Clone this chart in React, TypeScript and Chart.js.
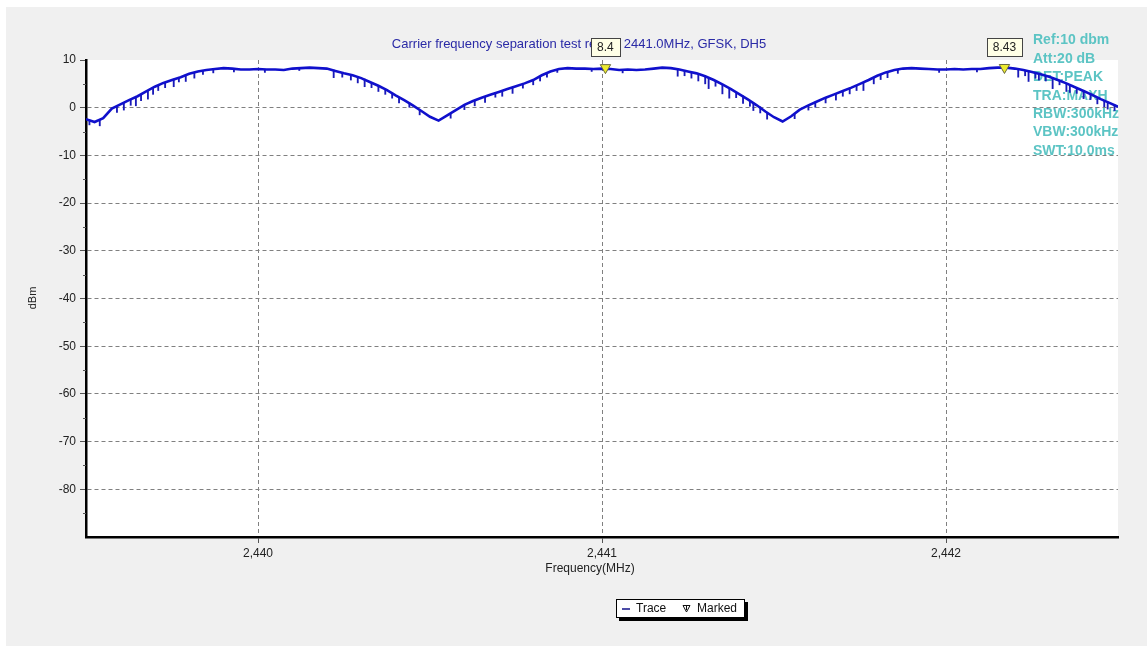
import React, { useEffect, useRef } from "react";
import { Chart, registerables } from "chart.js";

Chart.register(...registerables);

const TITLE = "Carrier frequency separation test result, 2441.0MHz, GFSK, DH5";
const X_TITLE = "Frequency(MHz)";
const Y_TITLE = "dBm";
const INFO_LINES = ["Ref:10 dbm", "Att:20 dB", "DET:PEAK", "TRA:MAXH", "RBW:300kHz", "VBW:300kHz", "SWT:10.0ms"];
const LEGEND_TRACE = "Trace";
const LEGEND_MARKED = "Marked";

const X_MIN = 2439.5;
const X_MAX = 2442.5;
const X_TICKS = [2440, 2441, 2442];
const Y_MIN = -90;
const Y_MAX = 10;
const Y_TICKS = [10, 0, -10, -20, -30, -40, -50, -60, -70, -80];

const TRACE_FREQ = [
  2439.5, 2439.525, 2439.55, 2439.575, 2439.6, 2439.625, 2439.65, 2439.675, 2439.7, 2439.725,
  2439.75, 2439.775, 2439.8, 2439.825, 2439.85, 2439.875, 2439.9, 2439.925, 2439.95, 2439.975,
  2440.0, 2440.025, 2440.05, 2440.075, 2440.1, 2440.125, 2440.15, 2440.175, 2440.2, 2440.225,
  2440.25, 2440.275, 2440.3, 2440.325, 2440.35, 2440.375, 2440.4, 2440.425, 2440.45, 2440.475,
  2440.5, 2440.525, 2440.55, 2440.575, 2440.6, 2440.625, 2440.65, 2440.675, 2440.7, 2440.725,
  2440.75, 2440.775, 2440.8, 2440.825, 2440.85, 2440.875, 2440.9, 2440.925, 2440.95, 2440.975,
  2441.0, 2441.025, 2441.05, 2441.075, 2441.1, 2441.125, 2441.15, 2441.175, 2441.2, 2441.225,
  2441.25, 2441.275, 2441.3, 2441.325, 2441.35, 2441.375, 2441.4, 2441.425, 2441.45, 2441.475,
  2441.5, 2441.525, 2441.55, 2441.575, 2441.6, 2441.625, 2441.65, 2441.675, 2441.7, 2441.725,
  2441.75, 2441.775, 2441.8, 2441.825, 2441.85, 2441.875, 2441.9, 2441.925, 2441.95, 2441.975,
  2442.0, 2442.025, 2442.05, 2442.075, 2442.1, 2442.125, 2442.15, 2442.175, 2442.2, 2442.225,
  2442.25, 2442.275, 2442.3, 2442.325, 2442.35, 2442.375, 2442.4, 2442.425, 2442.45, 2442.475,
  2442.5,
];

const TRACE_DBM = [
  -2.4, -3.0, -2.2, -0.2, 0.7, 1.6, 2.4, 3.4, 4.4, 5.2,
  5.8, 6.4, 7.1, 7.6, 7.9, 8.1, 8.3, 8.2, 8.0, 8.0,
  8.1, 8.0, 8.0, 7.9, 8.2, 8.3, 8.4, 8.3, 8.2, 7.7,
  7.2, 6.8, 6.2, 5.4, 4.6, 3.7, 2.6, 1.6, 0.5, -0.7,
  -1.9, -2.7, -1.6, -0.5, 0.6, 1.4, 2.1, 2.7, 3.3, 3.9,
  4.5, 5.1, 5.8, 6.8, 7.6, 8.1, 8.3, 8.2, 8.2, 8.1,
  8.2, 8.1, 7.9, 8.0, 7.9, 8.0, 8.2, 8.4, 8.3, 8.0,
  7.6, 7.2, 6.6, 5.8, 4.9, 3.9, 2.8, 1.7, 0.5, -0.8,
  -2.0, -2.9, -1.8, -0.4, 0.5, 1.3, 2.1, 2.8, 3.5, 4.2,
  5.0, 5.8, 6.7, 7.4, 7.9, 8.2, 8.3, 8.2, 8.1, 8.0,
  8.0, 8.1, 8.0, 8.1, 8.1, 8.3, 8.4, 8.4, 8.2, 7.9,
  7.5, 7.0, 6.5, 5.8, 5.1, 4.3, 3.5, 2.7, 1.8, 1.0,
  0.2,
];

// downward noise spikes: frequency, top, bottom (dBm)
const SPIKE_FREQ = [
  2439.51, 2439.54, 2439.59, 2439.61, 2439.63, 2439.645, 2439.66, 2439.68, 2439.695, 2439.71,
  2439.73, 2439.755, 2439.77, 2439.79, 2439.815, 2439.84, 2439.87, 2439.93, 2440.02, 2440.12,
  2440.22, 2440.245, 2440.27, 2440.29, 2440.31, 2440.33, 2440.35, 2440.37, 2440.39, 2440.41,
  2440.44, 2440.47, 2440.56, 2440.6, 2440.63, 2440.66, 2440.69, 2440.71, 2440.74, 2440.77,
  2440.8, 2440.82, 2440.84, 2440.87, 2440.97, 2441.06, 2441.22, 2441.24, 2441.26, 2441.28,
  2441.3, 2441.31, 2441.33, 2441.35, 2441.37, 2441.39, 2441.41, 2441.43, 2441.44, 2441.46,
  2441.48, 2441.56, 2441.6, 2441.62, 2441.65, 2441.68, 2441.7, 2441.72, 2441.74, 2441.76,
  2441.79, 2441.81, 2441.83, 2441.86, 2441.98, 2442.09, 2442.21, 2442.23, 2442.24, 2442.26,
  2442.27, 2442.29, 2442.31, 2442.33, 2442.35, 2442.36, 2442.38, 2442.4, 2442.42, 2442.44,
  2442.46, 2442.47, 2442.49,
];
const SPIKE_HIGH = [
  -2.6, -2.7, 0.3, 1.0, 1.7, 2.2, 2.7, 3.5, 4.2, 4.7,
  5.3, 6.0, 6.3, 6.9, 7.4, 7.8, 8.1, 8.2, 8.0, 8.3,
  7.9, 7.3, 6.9, 6.5, 6.0, 5.3, 4.6, 3.9, 3.1, 2.2,
  1.0, -0.5, -1.2, 0.6, 1.5, 2.3, 3.1, 3.5, 4.3, 5.0,
  5.8, 6.6, 7.3, 8.0, 8.1, 7.9, 8.1, 7.7, 7.4, 7.0,
  6.6, 6.3, 5.6, 4.9, 4.1, 3.2, 2.5, 1.5, 1.0, 0.2,
  -1.0, -1.3, 0.5, 1.2, 2.1, 3.0, 3.5, 4.1, 4.7, 5.3,
  6.3, 6.9, 7.5, 8.0, 8.0, 8.1, 8.0, 7.8, 7.7, 7.3,
  7.1, 6.7, 6.3, 5.8, 5.1, 4.8, 4.1, 3.5, 2.8, 2.0,
  1.4, 1.2, 0.6,
];
const SPIKE_LOW = [
  -3.6, -3.8, -1.0, -0.5, 0.5, 0.4, 1.5, 1.8, 2.8, 3.6,
  4.2, 4.4, 5.4, 5.5, 6.2, 7.0, 7.3, 7.5, 7.4, 7.8,
  6.3, 6.4, 5.8, 5.2, 4.4, 4.2, 3.4, 2.8, 2.0, 1.0,
  0.0, -1.5, -2.2, -0.4, 0.4, 1.1, 2.2, 2.4, 3.0, 4.1,
  4.8, 5.6, 6.4, 7.4, 7.6, 7.3, 6.6, 6.7, 6.2, 5.6,
  5.0, 4.0, 4.5, 2.9, 2.0, 2.1, 0.9, 0.3, -0.6, -1.1,
  -2.4, -2.3, -0.5, 0.0, 1.0, 1.6, 2.4, 2.9, 3.6, 3.6,
  5.0, 5.9, 6.3, 7.2, 7.4, 7.5, 6.4, 6.7, 5.5, 6.2,
  5.8, 5.6, 4.0, 4.8, 3.4, 3.2, 3.0, 1.9, 1.7, 0.8,
  0.2, -0.3, -0.6,
];

const MARKER_FREQ = [2441.01, 2442.17];
const MARKER_DBM = [8.4, 8.43];

const FONT = '"Liberation Sans", Arial, Helvetica, sans-serif';
const W = 1147;
const H = 646;

const decorPlugin = {
  id: "decor",
  beforeDraw(chart: any) {
    const ctx = chart.ctx;
    const a = chart.chartArea;
    ctx.save();
    ctx.fillStyle = "#ffffff";
    ctx.fillRect(0, 0, W, H);
    ctx.fillStyle = "#f0f0f0";
    ctx.fillRect(6, 7, W - 6, H - 7);
    ctx.fillStyle = "#ffffff";
    ctx.fillRect(a.left, a.top, a.right - a.left, a.bottom - a.top);

    // title
    ctx.fillStyle = "#2a2aa6";
    ctx.font = `13px ${FONT}`;
    ctx.textAlign = "center";
    ctx.textBaseline = "middle";
    ctx.fillText(TITLE, 579, 44);

    // info text
    ctx.fillStyle = "#5cc4c4";
    ctx.font = `bold 14px ${FONT}`;
    ctx.textAlign = "left";
    INFO_LINES.forEach((t, i) => ctx.fillText(t, 1033, 40.5 + i * 18.4));

    // axis titles
    ctx.fillStyle = "#222";
    ctx.font = `12px ${FONT}`;
    ctx.textAlign = "center";
    ctx.fillText(X_TITLE, 590, 569);
    ctx.save();
    ctx.translate(33, 298);
    ctx.rotate(-Math.PI / 2);
    ctx.font = `11px ${FONT}`;
    ctx.fillText(Y_TITLE, 0, 0);
    ctx.restore();

    // legend
    ctx.fillStyle = "#000";
    ctx.fillRect(619, 602, 129, 19);
    ctx.fillStyle = "#fff";
    ctx.fillRect(616, 599, 129, 19);
    ctx.strokeStyle = "#000";
    ctx.lineWidth = 1;
    ctx.strokeRect(616.5, 599.5, 128, 18);
    ctx.strokeStyle = "#10108a";
    ctx.lineWidth = 1.5;
    ctx.beginPath();
    ctx.moveTo(622, 609);
    ctx.lineTo(630, 609);
    ctx.stroke();
    ctx.fillStyle = "#111";
    ctx.font = `12px ${FONT}`;
    ctx.textAlign = "left";
    ctx.fillText(LEGEND_TRACE, 636, 609);
    ctx.strokeStyle = "#111";
    ctx.lineWidth = 1;
    ctx.beginPath();
    ctx.moveTo(683, 605.5);
    ctx.lineTo(690, 605.5);
    ctx.lineTo(686.5, 612);
    ctx.closePath();
    ctx.stroke();
    ctx.beginPath();
    ctx.moveTo(686.5, 606);
    ctx.lineTo(686.5, 610);
    ctx.stroke();
    ctx.fillText(LEGEND_MARKED, 697, 609);
    ctx.restore();
  },
  afterDraw(chart: any) {
    const ctx = chart.ctx;
    const xs = chart.scales.x;
    const ys = chart.scales.y;
    ctx.save();
    // minor ticks on y axis
    ctx.strokeStyle = "#555";
    ctx.lineWidth = 1;
    for (let v = Y_MIN + 5; v < Y_MAX; v += 10) {
      const py = Math.round(ys.getPixelForValue(v)) + 0.5;
      ctx.beginPath();
      ctx.moveTo(xs.left - 3, py);
      ctx.lineTo(xs.left, py);
      ctx.stroke();
    }
    // marker labels
    ctx.font = `12px ${FONT}`;
    ctx.textAlign = "center";
    ctx.textBaseline = "middle";
    MARKER_FREQ.forEach((f, i) => {
      const label = String(MARKER_DBM[i]);
      const px = xs.getPixelForValue(f);
      const tw = ctx.measureText(label).width;
      const bw = Math.round(tw + 12);
      const bx = Math.round(px - bw / 2) + 0.5;
      ctx.fillStyle = "#ffffe6";
      ctx.fillRect(bx, 38.5, bw, 18);
      ctx.strokeStyle = "#444";
      ctx.strokeRect(bx, 38.5, bw, 18);
      ctx.fillStyle = "#222";
      ctx.fillText(label, px, 48);
    });
    ctx.restore();
  },
};

export default function App() {
  const ref = useRef<HTMLCanvasElement | null>(null);
  useEffect(() => {
    if (!ref.current) return;
    const trace = TRACE_FREQ.map((f, i) => ({ x: f, y: TRACE_DBM[i] }));
    const spikes = SPIKE_FREQ.map((f, i) => ({ x: f, y: [SPIKE_LOW[i], SPIKE_HIGH[i]] }));
    const markers = MARKER_FREQ.map((f, i) => ({ x: f, y: MARKER_DBM[i] }));
    const chart = new Chart(ref.current, {
      type: "line",
      data: {
        datasets: [
          {
            type: "scatter",
            label: "Marked",
            data: markers,
            order: 0,
            pointStyle: "triangle",
            rotation: 180,
            pointRadius: 6,
            pointBackgroundColor: "#ecea30",
            pointBorderColor: "#6a6a40",
            pointBorderWidth: 1,
            showLine: false,
          } as any,
          {
            type: "line",
            label: "Trace",
            data: trace,
            order: 1,
            borderColor: "#1010cc",
            borderWidth: 2.6,
            pointRadius: 0,
            tension: 0,
            fill: false,
          } as any,
          {
            type: "bar",
            label: "spikes",
            data: spikes,
            order: 2,
            backgroundColor: "#1a1ab8",
            borderWidth: 0,
            barThickness: 1.2,
            grouped: false,
          } as any,
        ],
      },
      options: {
        animation: false,
        responsive: false,
        maintainAspectRatio: false,
        events: [],
        layout: { padding: { left: 0, top: 60, right: 29, bottom: 79 } },
        plugins: { legend: { display: false }, tooltip: { enabled: false }, title: { display: false } },
        scales: {
          x: {
            type: "linear",
            min: X_MIN,
            max: X_MAX,
            offset: false,
            afterBuildTicks: (s: any) => {
              s.ticks = X_TICKS.map((v) => ({ value: v }));
            },
            afterFit: (s: any) => {
              s.height = 30;
            },
            ticks: {
              color: "#222",
              font: { family: FONT, size: 12 },
              padding: 3,
              maxRotation: 0,
              callback: (v: any) => Number(v).toLocaleString("en-US"),
            },
            grid: {
              offset: false,
              color: "#808080",
              lineWidth: 1,
              tickLength: 6,
              tickColor: "#555",
              tickBorderDash: [],
            },
            border: { display: true, color: "#000", width: 2.5, dash: [4, 3] },
          },
          y: {
            type: "linear",
            min: Y_MIN,
            max: Y_MAX,
            afterBuildTicks: (s: any) => {
              s.ticks = Y_TICKS.map((v) => ({ value: v }));
            },
            afterFit: (s: any) => {
              s.width = 86;
            },
            ticks: {
              color: "#222",
              font: { family: FONT, size: 12 },
              padding: 4,
              callback: (v: any) => String(v),
            },
            grid: {
              offset: false,
              color: (c: any) => (c.tick && c.tick.value === Y_MAX ? "rgba(0,0,0,0)" : "#808080"),
              lineWidth: 1,
              tickLength: 6,
              tickColor: "#555",
              tickBorderDash: [],
            },
            border: { display: true, color: "#000", width: 2.5, dash: [4, 3] },
          },
        },
      } as any,
      plugins: [decorPlugin],
    });
    return () => chart.destroy();
  }, []);
  return (
    <div style={{ position: "absolute", left: 0, top: 0, width: W, height: H }}>
      <canvas ref={ref} width={W} height={H} style={{ display: "block", width: W, height: H }} />
    </div>
  );
}
